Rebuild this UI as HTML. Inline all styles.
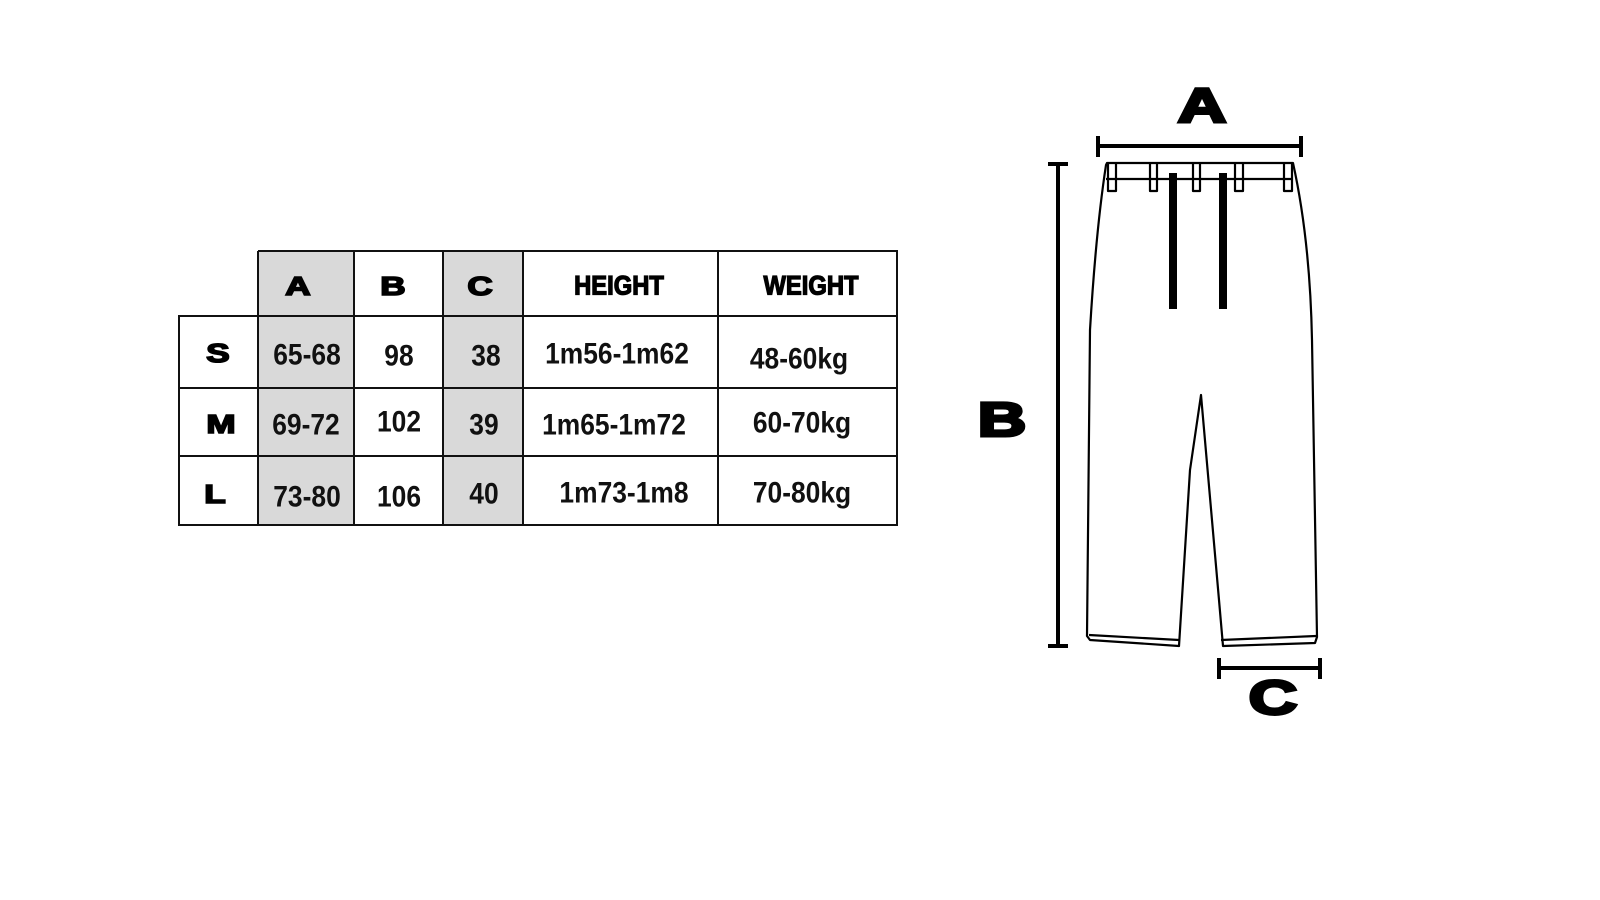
<!DOCTYPE html>
<html><head><meta charset="utf-8"><style>
html,body{margin:0;padding:0;background:#fff;}
svg{display:block}
.t{font-family:"Liberation Sans Narrow","Liberation Sans",sans-serif;font-weight:bold;font-size:30px;fill:#111;}
.w{font-family:"Liberation Sans",sans-serif;font-weight:bold;fill:#000;stroke:#000;}
</style></head><body>
<svg width="1600" height="900" viewBox="0 0 1600 900" xmlns="http://www.w3.org/2000/svg">
<rect width="1600" height="900" fill="#fff"/>
<rect x="258" y="251" width="96" height="274" fill="#d9d9d9"/>
<rect x="443" y="251" width="80" height="274" fill="#d9d9d9"/>
<g stroke="#111" stroke-width="2" fill="none">
<path d="M258 251H897V525H179V316H897M179 388H897M179 456H897M179 316V525M258 251V525M354 251V525M443 251V525M523 251V525M718 251V525M897 251V525"/>
</g>
<g class="w" text-anchor="middle" dominant-baseline="central" font-size="26" stroke-width="1.6">
<text x="298" y="286" transform="translate(298 286) scale(1.35 1) translate(-298 -286)">A</text>
<text x="393" y="286" transform="translate(393 286) scale(1.35 1) translate(-393 -286)">B</text>
<text x="480" y="286" transform="translate(480 286) scale(1.35 1) translate(-480 -286)">C</text>
<text x="218" y="353" transform="translate(218 353) scale(1.35 1) translate(-218 -353)">S</text>
<text x="221" y="424" transform="translate(221 424) scale(1.35 1) translate(-221 -424)">M</text>
<text x="215" y="494" transform="translate(215 494) scale(1.35 1) translate(-215 -494)">L</text>
</g>
<g class="w" text-anchor="middle" dominant-baseline="central" font-size="27" stroke-width="1.3">
<text x="619" y="286" transform="translate(619 286) scale(0.88 1) translate(-619 -286)">HEIGHT</text>
<text x="811" y="286" transform="translate(811 286) scale(0.88 1) translate(-811 -286)">WEIGHT</text>
</g>
<g class="t" text-anchor="middle" dominant-baseline="central">
<g transform="translate(0 0)">
<text x="307" y="354" transform="translate(307 354) scale(0.88 1) translate(-307 -354)">65-68</text>
<text x="399" y="355" transform="translate(399 355) scale(0.88 1) translate(-399 -355)">98</text>
<text x="486" y="355" transform="translate(486 355) scale(0.88 1) translate(-486 -355)">38</text>
<text x="617" y="353" transform="translate(617 353) scale(0.88 1) translate(-617 -353)">1m56-1m62</text>
<text x="799" y="358" transform="translate(799 358) scale(0.88 1) translate(-799 -358)">48-60kg</text>
<text x="306" y="424" transform="translate(306 424) scale(0.88 1) translate(-306 -424)">69-72</text>
<text x="399" y="421" transform="translate(399 421) scale(0.88 1) translate(-399 -421)">102</text>
<text x="484" y="424" transform="translate(484 424) scale(0.88 1) translate(-484 -424)">39</text>
<text x="614" y="424" transform="translate(614 424) scale(0.88 1) translate(-614 -424)">1m65-1m72</text>
<text x="802" y="422" transform="translate(802 422) scale(0.88 1) translate(-802 -422)">60-70kg</text>
<text x="307" y="496" transform="translate(307 496) scale(0.88 1) translate(-307 -496)">73-80</text>
<text x="399" y="496" transform="translate(399 496) scale(0.88 1) translate(-399 -496)">106</text>
<text x="484" y="493" transform="translate(484 493) scale(0.88 1) translate(-484 -493)">40</text>
<text x="624" y="492" transform="translate(624 492) scale(0.88 1) translate(-624 -492)">1m73-1m8</text>
<text x="802" y="492" transform="translate(802 492) scale(0.88 1) translate(-802 -492)">70-80kg</text>
</g>
</g>
<g fill="none" stroke="#000" stroke-width="2.2" stroke-linejoin="round">
<path d="M1107 163H1293Q1310 240 1312 340L1317 637L1315 643L1223 646L1219 600L1201 395L1190 470L1179 646L1090 640L1087 636L1090 330Q1096 230 1106 165Z"/>
<path d="M1106 179H1293"/>
<path d="M1089 635L1179 640M1221 640L1316 636"/>
<path d="M1108 163V191H1116V163M1150 163V191H1157V163M1193 163V191H1200V163M1235 163V191H1243V163M1284 163V191H1292V163"/>
</g>
<rect x="1169" y="173" width="8" height="136" fill="#000"/>
<rect x="1219" y="173" width="8" height="136" fill="#000"/>
<g stroke="#000" stroke-width="4" fill="none">
<path d="M1098 146H1301M1098 136V157M1301 136V157"/>
<path d="M1058 164V646M1048 164H1068M1048 646H1068"/>
<path d="M1219 668H1320M1219 658V679M1320 658V679"/>
</g>
<g class="w" text-anchor="middle" dominant-baseline="central" font-size="48" stroke-width="3">
<text x="1202" y="106" transform="translate(1202 106) scale(1.4 1) translate(-1202 -106)">A</text>
<text x="1002" y="420" transform="translate(1002 420) scale(1.4 1) translate(-1002 -420)">B</text>
<text x="1273" y="698" transform="translate(1273 698) scale(1.4 1) translate(-1273 -698)">C</text>
</g>
</svg>
</body></html>
